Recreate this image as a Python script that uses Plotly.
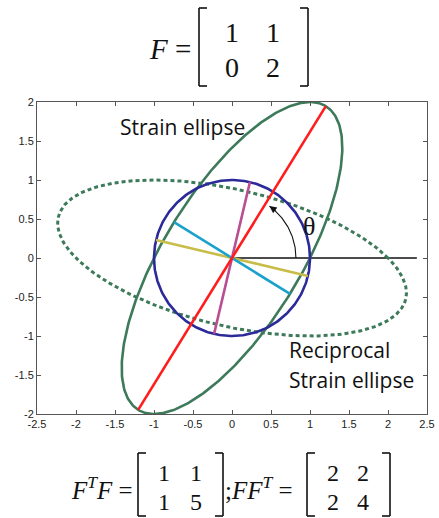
import numpy as np
import plotly.graph_objects as go

# ---- data ----
F = np.array([[1.0, 1.0], [0.0, 2.0]])
FtF = F.T @ F          # [[1,1],[1,5]]
FFt = F @ F.T          # [[2,2],[2,4]]
recip_scale = 2.0      # reciprocal ellipse drawn at scale 2
arc_radius = 0.82
x_ticks = [-2.5, -2, -1.5, -1, -0.5, 0, 0.5, 1, 1.5, 2, 2.5]
y_ticks = [-2, -1.5, -1, -0.5, 0, 0.5, 1, 1.5, 2]
x_axis_line = [0, 2.37]

# ---- geometry derived from F ----
t = np.linspace(0, 2 * np.pi, 361)
U = np.vstack([np.cos(t), np.sin(t)])
strain = F @ U
recip = recip_scale * np.linalg.inv(F) @ U

w, V = np.linalg.eigh(FFt)          # ascending
s_min, s_max = np.sqrt(w)
major = V[:, 1] * s_max
if major[1] < 0:
    major = -major
minor = V[:, 0] * s_min
u_major = np.linalg.solve(F, major)
u_minor = np.linalg.solve(F, minor)

theta = np.arctan2(major[1], major[0])
a_end = theta * 0.93
ta = np.linspace(0, a_end, 60)

GREEN = "#3d7a5a"
BLUE = "#2b2a98"
RED = "#ff1c1c"
CYAN = "#1ba2cc"
YELLOW = "#c9bd4a"
MAGENTA = "#b94f93"

fig = go.Figure()

def seg(p, color, width=2.6):
    fig.add_trace(go.Scatter(x=[-p[0], p[0]], y=[-p[1], p[1]], mode="lines",
                             line=dict(color=color, width=width), hoverinfo="skip"))

fig.add_trace(go.Scatter(x=x_axis_line, y=[0, 0], mode="lines",
                         line=dict(color="#111", width=1.3), hoverinfo="skip"))
fig.add_trace(go.Scatter(x=recip[0], y=recip[1], mode="lines",
                         line=dict(color=GREEN, width=3, dash="4px,3px"), hoverinfo="skip"))
fig.add_trace(go.Scatter(x=strain[0], y=strain[1], mode="lines",
                         line=dict(color=GREEN, width=2.6), hoverinfo="skip"))
fig.add_trace(go.Scatter(x=U[0], y=U[1], mode="lines",
                         line=dict(color=BLUE, width=2.6), hoverinfo="skip"))
seg(u_minor, YELLOW)
seg(minor, CYAN)
seg(u_major, MAGENTA)
seg(major, RED)
fig.add_trace(go.Scatter(x=arc_radius * np.cos(ta), y=arc_radius * np.sin(ta), mode="lines",
                         line=dict(color="#111", width=1.1), hoverinfo="skip"))

hx, hy = arc_radius * np.cos(a_end), arc_radius * np.sin(a_end)
tx, ty = hx + 0.12 * np.sin(a_end), hy - 0.12 * np.cos(a_end)

annotations = [
    dict(x=hx, y=hy, ax=tx, ay=ty, xref="x", yref="y", axref="x", ayref="y",
         showarrow=True, arrowhead=2, arrowsize=1.3, arrowwidth=1.1, arrowcolor="#111", text=""),
    dict(x=0.99, y=0.40, xref="x", yref="y", text="θ", showarrow=False,
         font=dict(family="Liberation Serif", size=26, color="#111")),
    dict(x=-1.46, y=1.68, xref="x", yref="y", text="Strain ellipse", showarrow=False,
         xanchor="left", yanchor="middle", font=dict(family="Open Sans", size=21, color="#111")),
    dict(x=0.71, y=-1.18, xref="x", yref="y", text="Reciprocal", showarrow=False,
         xanchor="left", yanchor="middle", font=dict(family="Open Sans", size=21, color="#111")),
    dict(x=0.71, y=-1.57, xref="x", yref="y", text="Strain ellipse", showarrow=False,
         xanchor="left", yanchor="middle", font=dict(family="Open Sans", size=21, color="#111")),
]

# ---- pixel helpers for formula decorations ----
L, R, T, B = 37, 427, 102, 414
def px(xp):
    return (xp - L) / (R - L)
def py(yp):
    return (B - yp) / (B - T)

shapes = []
def bracket(x0, y0, y1, side, serif=8):
    d = serif if side == "l" else -serif
    for xa, ya, xb, yb in [(x0, y0, x0, y1), (x0, y0, x0 + d, y0), (x0, y1, x0 + d, y1)]:
        shapes.append(dict(type="line", xref="paper", yref="paper",
                           x0=px(xa), y0=py(ya), x1=px(xb), y1=py(yb),
                           line=dict(color="#111", width=1.6)))

def mat(M, x_cols, y_rows, size):
    for i, yy in enumerate(y_rows):
        for j, xx in enumerate(x_cols):
            annotations.append(dict(x=px(xx), y=py(yy), xref="paper", yref="paper",
                                    text=str(int(M[i][j])), showarrow=False,
                                    xanchor="center", yanchor="middle",
                                    font=dict(family="Liberation Serif", size=size, color="#111")))

def txt(x, y, s, size, anchor):
    annotations.append(dict(x=px(x), y=py(y), xref="paper", yref="paper", text=s,
                            showarrow=False, xanchor=anchor, yanchor="middle",
                            font=dict(family="Liberation Serif", size=size, color="#111")))

# top: F = [..]
txt(193, 49, "<i>F</i> =", 29, "right")
bracket(199, 8, 86, "l")
bracket(308, 8, 86, "r")
mat(F, [232, 273], [33, 68], 28)

# bottom
txt(135, 488, "<i>F</i><sup><i>T</i></sup><i>F</i> =", 25, "right")
bracket(138, 453, 516, "l")
bracket(223, 453, 516, "r")
mat(FtF, [164, 196], [473, 502], 24)
txt(223, 488, ";<i>FF</i><sup><i>T</i></sup> =", 25, "left")
bracket(307, 453, 516, "l")
bracket(390, 453, 516, "r")
mat(FFt, [333, 363], [473, 502], 24)

axis_common = dict(showgrid=False, zeroline=False, showline=True, mirror="ticks",
                   linecolor="#555", linewidth=1, ticks="inside", ticklen=4,
                   tickcolor="#555", automargin=False,
                   tickfont=dict(family="Liberation Sans", size=11, color="#222"))

fig.update_layout(
    width=439, height=518,
    margin=dict(l=L, r=439 - R, t=T, b=518 - B, pad=0),
    paper_bgcolor="white", plot_bgcolor="white",
    showlegend=False,
    xaxis=dict(range=[-2.5, 2.5], tickvals=x_ticks, ticktext=[f"{v:g}" for v in x_ticks], **axis_common),
    yaxis=dict(range=[-2, 2], tickvals=y_ticks, ticktext=[f"{v:g}" for v in y_ticks], **axis_common),
    annotations=annotations,
    shapes=shapes,
)

fig.write_html("out.html", config={"displayModeBar": False},
               post_script="document.body.style.margin='0';document.body.style.overflow='hidden';")
